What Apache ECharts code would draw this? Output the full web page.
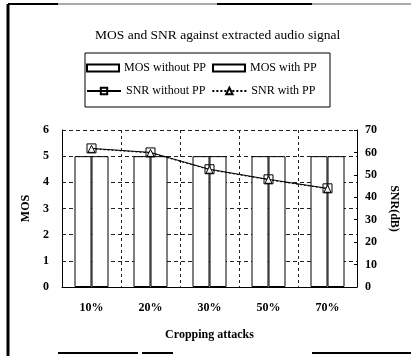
<!DOCTYPE html>
<html>
<head>
<meta charset="utf-8">
<script src="https://cdn.jsdelivr.net/npm/echarts@6/dist/echarts.min.js"></script>
<style>
  html, body { margin: 0; padding: 0; background: #fff; }
  #chart { width: 411px; height: 356px; }
</style>
</head>
<body>
<div id="chart"></div>
<script>
// data
const categories = ['10%', '20%', '30%', '50%', '70%'];
const mosWithout = [5, 5, 5, 5, 5];
const mosWith = [5, 5, 5, 5, 5];
const snrWithout = [61.8, 60, 52.5, 48, 44];
const snrWith = [61.6, 59.8, 52.3, 47.8, 43.8];

const serif = '"Liberation Serif", "DejaVu Serif", serif';

const chart = echarts.init(document.getElementById('chart'));

const barStyle = { color: '#fff', borderColor: '#000', borderWidth: 1 };
const legendText = { fontFamily: serif, fontSize: 12, color: '#000' };

chart.setOption({
  animation: false,
  backgroundColor: '#fff',
  title: {
    text: 'MOS and SNR against extracted audio signal',
    left: 90,
    top: 23,
    textStyle: { fontFamily: serif, fontSize: 13.5, fontWeight: 'normal', color: '#000' }
  },
  legend: [
    {
      left: 86,
      top: 62,
      padding: 0,
      itemGap: 6,
      itemWidth: 32,
      itemHeight: 7,
      textStyle: legendText,
      data: [
        { name: 'MOS without PP', icon: 'rect' },
        { name: 'MOS with PP', icon: 'rect' }
      ]
    },
    {
      left: 86,
      top: 85,
      padding: 0,
      itemGap: 6,
      itemWidth: 34,
      itemHeight: 8,
      textStyle: legendText,
      data: ['SNR without PP', 'SNR with PP']
    }
  ],
  grid: { left: 62, right: 54, top: 130, bottom: 69 },
  xAxis: {
    type: 'category',
    data: categories,
    axisLine: { lineStyle: { color: '#000', width: 1 } },
    axisTick: { show: false },
    axisLabel: { fontFamily: serif, fontSize: 12, fontWeight: 'bold', color: '#000', margin: 15 },
    splitLine: { show: true, lineStyle: { color: '#222', type: [3, 3], width: 1 } },
    name: 'Cropping attacks',
    nameLocation: 'middle',
    nameGap: 42,
    nameTextStyle: { fontFamily: serif, fontSize: 12, fontWeight: 'bold', color: '#000' }
  },
  yAxis: [
    {
      type: 'value',
      min: 0,
      max: 6,
      interval: 1,
      name: 'MOS',
      nameLocation: 'middle',
      nameGap: 22,
      nameTextStyle: { fontFamily: serif, fontSize: 12, fontWeight: 'bold', color: '#000' },
      axisLine: { show: true, lineStyle: { color: '#000' } },
      axisTick: { show: false },
      axisLabel: { fontFamily: serif, fontSize: 12, fontWeight: 'bold', color: '#000', margin: 13 },
      splitLine: { show: true, lineStyle: { color: '#222', type: [4, 3], width: 1 } }
    },
    {
      type: 'value',
      min: 0,
      max: 70,
      interval: 10,
      position: 'right',
      name: 'SNR(dB)',
      nameLocation: 'middle',
      nameRotate: -90,
      nameGap: 20,
      nameTextStyle: { fontFamily: serif, fontSize: 12, fontWeight: 'bold', color: '#000' },
      axisLine: { show: true, lineStyle: { color: '#000' } },
      axisTick: { show: true, inside: true, length: 3, lineStyle: { color: '#000' } },
      axisLabel: { fontFamily: serif, fontSize: 12, fontWeight: 'bold', color: '#000', margin: 8 },
      splitLine: { show: false }
    }
  ],
  series: [
    {
      name: 'MOS without PP',
      type: 'bar',
      data: mosWithout,
      barWidth: 17,
      barGap: '0%',
      itemStyle: barStyle
    },
    {
      name: 'MOS with PP',
      type: 'bar',
      data: mosWith,
      barWidth: 17,
      itemStyle: barStyle
    },
    {
      name: 'SNR with PP',
      type: 'line',
      yAxisIndex: 1,
      data: snrWith,
      symbol: 'triangle',
      symbolSize: 7,
      lineStyle: { color: '#000', width: 1, type: [2, 2] },
      itemStyle: { color: '#fff', borderColor: '#000', borderWidth: 1 }
    },
    {
      name: 'SNR without PP',
      type: 'line',
      yAxisIndex: 1,
      data: snrWithout,
      symbol: 'rect',
      symbolSize: 9,
      lineStyle: { color: '#000', width: 1 },
      itemStyle: { color: 'rgba(255,255,255,0)', borderColor: '#000', borderWidth: 1 }
    }
  ],
  graphic: [
    // legend box
    { type: 'rect', shape: { x: 85, y: 53, width: 245, height: 54 }, style: { fill: 'none', stroke: '#000', lineWidth: 1 } },
    // scanned frame around the figure
    { type: 'line', shape: { x1: 8, y1: 4, x2: 8, y2: 356 }, style: { stroke: '#000', lineWidth: 3 } },
    { type: 'line', shape: { x1: 8, y1: 4, x2: 58, y2: 4 }, style: { stroke: '#000', lineWidth: 2 } },
    { type: 'line', shape: { x1: 58, y1: 4, x2: 411, y2: 4 }, style: { stroke: '#555', lineWidth: 1 } },
    { type: 'line', shape: { x1: 217, y1: 4, x2: 312, y2: 4 }, style: { stroke: '#000', lineWidth: 2 } },
    { type: 'line', shape: { x1: 58, y1: 353, x2: 138, y2: 353 }, style: { stroke: '#000', lineWidth: 2 } },
    { type: 'line', shape: { x1: 142, y1: 353, x2: 173, y2: 353 }, style: { stroke: '#000', lineWidth: 2 } },
    { type: 'line', shape: { x1: 312, y1: 353, x2: 411, y2: 353 }, style: { stroke: '#000', lineWidth: 2 } }
  ]
});
</script>
</body>
</html>
